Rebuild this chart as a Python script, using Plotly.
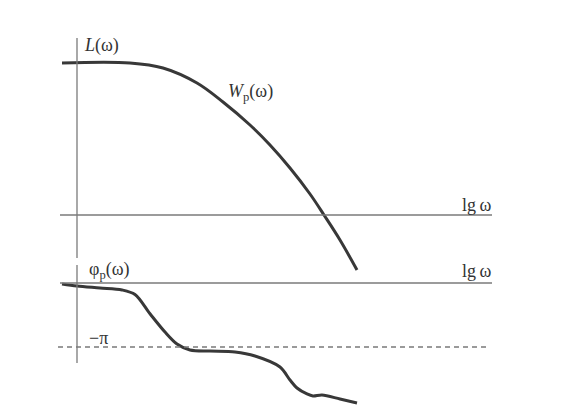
"""
Amplitude and phase response sketch: L(ω) with W_p(ω), and φ_p(ω).
"""
import plotly.graph_objects as go

# lg ω positions (arbitrary units, 0 at the vertical axis)
lgw_amp = [-0.15, 0.53, 0.86, 1.20, 1.46, 1.73, 1.93, 2.13, 2.33, 2.47, 2.63, 2.80]
# L(ω) of W_p, arbitrary units, 0 at the lg ω axis
amp = [15.2, 15.2, 14.7, 13.2, 11.3, 9.0, 7.0, 4.7, 2.1, 0.0, -2.5, -5.5]

lgw_phase = [-0.15, 0.00, 0.23, 0.45, 0.58, 0.73, 0.88, 1.00, 1.13, 1.33,
             1.58, 1.78, 2.03, 2.13, 2.20, 2.30, 2.36, 2.45, 2.63, 2.80]
# φ_p(ω) in units of π
phase = [-0.016, -0.047, -0.078, -0.109, -0.180, -0.48, -0.766, -0.953, -1.047, -1.063,
         -1.078, -1.141, -1.313, -1.516, -1.641, -1.734, -1.766, -1.750, -1.813, -1.875]

CURVE = "#383838"
AXIS = "#7a7a7a"
FONT = "Liberation Serif"

fig = go.Figure()

fig.add_trace(go.Scatter(
    x=lgw_amp, y=amp, mode="lines",
    line=dict(color=CURVE, width=3, shape="spline", smoothing=1.0),
    yaxis="y", hoverinfo="skip",
))
fig.add_trace(go.Scatter(
    x=lgw_phase, y=phase, mode="lines",
    line=dict(color=CURVE, width=3, shape="spline", smoothing=0.9),
    yaxis="y2", hoverinfo="skip",
))

# axes drawn as shapes
line_axis = dict(color=AXIS, width=1.3)
fig.add_shape(type="line", xref="x", yref="y", x0=-0.17, x1=4.15, y0=0, y1=0, line=line_axis)
fig.add_shape(type="line", xref="x", yref="y", x0=0, x1=0, y0=17.7, y1=-4.3, line=line_axis)
fig.add_shape(type="line", xref="x", yref="y2", x0=-0.17, x1=4.15, y0=0, y1=0, line=line_axis)
fig.add_shape(type="line", xref="x", yref="y2", x0=0, x1=0, y0=0.28, y1=-1.25, line=line_axis)
fig.add_shape(type="line", xref="x", yref="y2", x0=-0.19, x1=4.13, y0=-1, y1=-1,
              line=dict(color=AXIS, width=1.5, dash="5px,4px"))

txt = dict(family=FONT, size=18, color="#333333")
labels = [
    ("<i>L</i>(ω)", 0.05, 17.0, "y", "left"),
    ("<i>W</i><sub>p</sub>(ω)", 1.49, 12.3, "y", "left"),
    ("lg\u2009ω", 4.17, 1.0, "y", "right"),
    ("lg\u2009ω", 4.17, 0.19, "y2", "right"),
    ("φ<sub>p</sub>(ω)", 0.10, 0.20, "y2", "left"),
    ("−π", 0.10, -0.86, "y2", "left"),
]
for text, x, y, yref, anchor in labels:
    fig.add_annotation(text=text, x=x, y=y, xref="x", yref=yref,
                       xanchor=anchor, yanchor="middle", showarrow=False, font=txt)

fig.update_layout(
    width=578, height=409,
    margin=dict(l=0, r=0, t=0, b=0),
    paper_bgcolor="white", plot_bgcolor="white",
    showlegend=False,
    xaxis=dict(range=[-0.77, 5.01], visible=False, fixedrange=True),
    yaxis=dict(range=[-19.4, 21.5], visible=False, fixedrange=True),
    yaxis2=dict(range=[-1.969, 4.422], visible=False, overlaying="y", fixedrange=True),
)

fig.write_html("out.html", config={"displayModeBar": False},
               post_script="document.body.style.margin='0';")
